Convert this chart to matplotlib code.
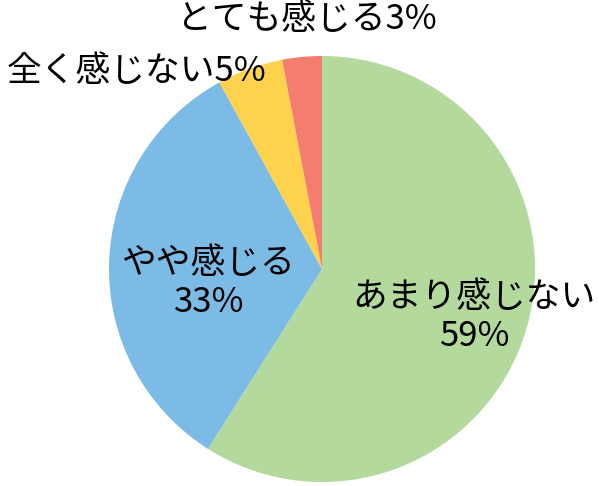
import matplotlib
matplotlib.use("Agg")
import matplotlib.pyplot as plt

labels = ["あまり感じない", "やや感じる", "全く感じない", "とても感じる"]
values = [59, 33, 5, 3]
colors = ["#b3d99c", "#7bbbe6", "#fdd24c", "#f47d6f"]

plt.rcParams["font.family"] = ["Noto Sans CJK JP", "DejaVu Sans"]

W, H = 599, 486
fig = plt.figure(figsize=(W / 100, H / 100), dpi=100)
ax = fig.add_axes([0, 0, 1, 1])
ax.pie(
    values,
    colors=colors,
    startangle=90,
    counterclock=False,
    center=(322, H - 269),
    radius=213,
    wedgeprops={"linewidth": 0},
)
ax.set_xlim(0, W)
ax.set_ylim(0, H)
ax.set_aspect("equal")
ax.axis("off")

fs = 25
# inside labels (two lines)
ax.text(474, H - 317, f"{labels[0]}\n{values[0]}%", ha="center", va="center",
        fontsize=fs, linespacing=1.15)
ax.text(209, H - 283, f"{labels[1]}\n{values[1]}%", ha="center", va="center",
        fontsize=fs, linespacing=1.15)
# outside labels
ax.text(137, H - 72, f"{labels[2]}{values[2]}%", ha="center", va="center", fontsize=fs)
ax.text(307, H - 20, f"{labels[3]}{values[3]}%", ha="center", va="center", fontsize=fs)

fig.savefig("out.png", dpi=100)
